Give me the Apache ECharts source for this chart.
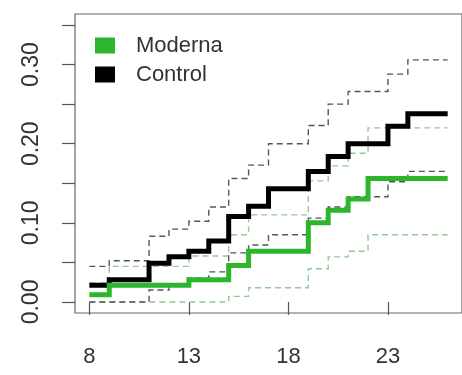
<!DOCTYPE html>
<html>
<head>
<meta charset="utf-8">
<script src="https://cdn.jsdelivr.net/npm/echarts@6/dist/echarts.min.js"></script>
<style>
  html, body { margin: 0; padding: 0; background: #fff; }
  #chart { width: 462px; height: 375px; }
</style>
</head>
<body>
<div id="chart"></div>
<script>
// Step points (day from which each value holds)
const days = [8, 9, 11, 12, 13, 14, 15, 16, 17, 19, 20, 21, 22, 23, 24, 26];

// Cumulative incidence, control arm, with lower/upper confidence bounds
const control      = [0.021, 0.028, 0.049, 0.057, 0.064, 0.077, 0.108, 0.121, 0.143, 0.165, 0.184, 0.200, 0.200, 0.222, 0.238, 0.238];
const controlUpper = [0.045, 0.052, 0.083, 0.092, 0.102, 0.120, 0.156, 0.173, 0.200, 0.223, 0.250, 0.266, 0.266, 0.288, 0.306, 0.306];
const controlLower = [0.000, 0.000, 0.015, 0.021, 0.030, 0.038, 0.062, 0.072, 0.085, 0.106, 0.120, 0.133, 0.133, 0.152, 0.165, 0.165];

// Cumulative incidence, Moderna arm, with lower/upper confidence bounds
const moderna      = [0.009, 0.021, 0.021, 0.021, 0.028, 0.028, 0.046, 0.064, 0.064, 0.100, 0.116, 0.130, 0.156, 0.156, 0.156, 0.156];
const modernaUpper = [0.024, 0.045, 0.045, 0.045, 0.058, 0.058, 0.085, 0.110, 0.110, 0.153, 0.172, 0.188, 0.220, 0.220, 0.220, 0.220];
const modernaLower = [0.000, 0.000, 0.000, 0.000, 0.000, 0.000, 0.007, 0.018, 0.018, 0.042, 0.057, 0.064, 0.085, 0.085, 0.085, 0.085];

// Axis ticks and labels
const xTicks = [8, 13, 18, 23];
const yTicks = [0, 0.05, 0.10, 0.15, 0.20, 0.25, 0.30, 0.35];
const yLabels = [0, 0.10, 0.20, 0.30];

const GREEN = '#2db52d';
const pairs = vals => days.map((d, i) => [d, vals[i]]);

function stepLine(name, vals, color, width, dashed, z) {
  return {
    name: name,
    type: 'line',
    step: 'end',
    data: pairs(vals),
    showSymbol: false,
    symbol: 'none',
    silent: true,
    z: z,
    color: color,
    lineStyle: {
      color: color,
      width: width,
      type: dashed ? [6, 4] : 'solid',
      cap: 'butt',
      join: 'miter'
    },
    animation: false
  };
}

const chart = echarts.init(document.getElementById('chart'), null, { renderer: 'canvas' });

const FONT = 'Liberation Sans, Arial, sans-serif';

chart.setOption({
  animation: false,
  backgroundColor: '#fff',
  grid: {
    left: 75, top: 14, width: 389, height: 299,
    show: true, borderColor: '#666', borderWidth: 1.2, backgroundColor: 'transparent',
    containLabel: false
  },
  legend: {
    data: [
      { name: 'Moderna', icon: 'rect', itemStyle: { color: GREEN, borderWidth: 0 } },
      { name: 'Control', icon: 'rect', itemStyle: { color: '#000', borderWidth: 0 } }
    ],
    orient: 'vertical',
    left: 95, top: 33,
    itemWidth: 20, itemHeight: 16,
    itemGap: 4,
    textStyle: { fontFamily: FONT, fontSize: 22, color: '#333', padding: [3, 0, 0, 16], lineHeight: 22 },
    padding: 0,
    selectedMode: false
  },
  xAxis: {
    type: 'value',
    min: 7.28, max: 26.72,
    axisLine: { show: false },
    splitLine: { show: false },
    axisTick: { show: true, inside: false, length: 13, customValues: xTicks, lineStyle: { color: '#555', width: 1.2 } },
    axisLabel: { customValues: xTicks, margin: 33, formatter: v => String(v), fontFamily: FONT, fontSize: 22, color: '#333' }
  },
  yAxis: {
    type: 'value',
    min: -0.014, max: 0.364,
    axisLine: { show: false },
    splitLine: { show: false },
    axisTick: { show: true, inside: false, length: 13, customValues: yTicks, lineStyle: { color: '#555', width: 1.2 } },
    axisLabel: { customValues: yLabels, margin: 32, rotate: 90, formatter: v => v.toFixed(2), fontFamily: FONT, fontSize: 23, color: '#333' }
  },
  series: [
    stepLine('Moderna lower', modernaLower, '#93c993', 1.4, true, 2),
    stepLine('Moderna upper', modernaUpper, '#93c993', 1.4, true, 2),
    stepLine('Control lower', controlLower, '#555', 1.4, true, 3),
    stepLine('Control upper', controlUpper, '#555', 1.4, true, 3),
    stepLine('Control', control, '#000', 5, false, 5),
    stepLine('Moderna', moderna, GREEN, 5, false, 6)
  ]
});
</script>
</body>
</html>
